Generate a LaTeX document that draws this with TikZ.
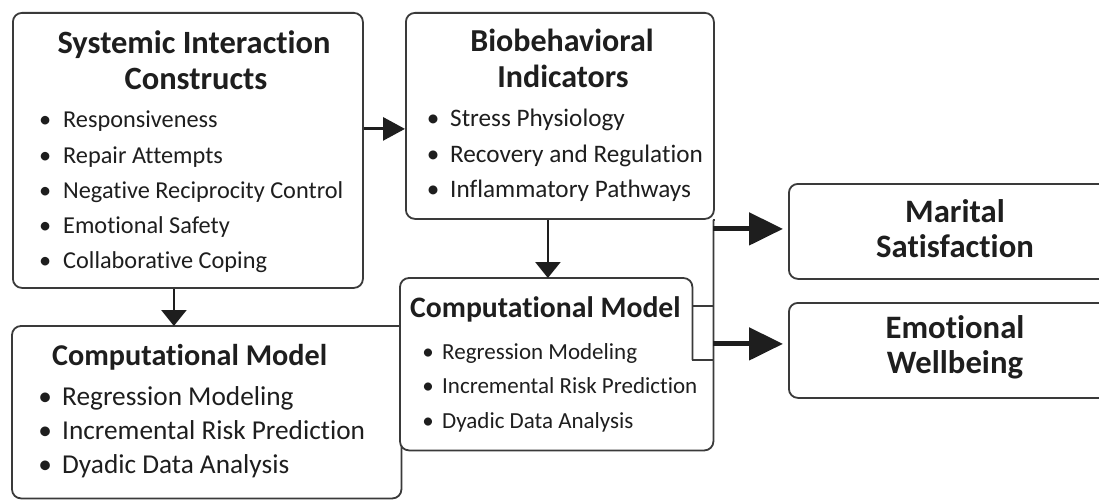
\documentclass[tikz,border=0pt]{standalone}
\usepackage{fontspec}
\setmainfont{Carlito}[Ligatures=NoCommon]
\usetikzlibrary{arrows.meta,calc}
\definecolor{ink}{HTML}{1E1E1E}
\definecolor{frame}{HTML}{3A3A3A}
% bullet hung in front of an item, centred in a box of the given width
\newcommand\bul[1]{\llap{\makebox[#1][c]{\textbullet}}}
\begin{document}
\begin{tikzpicture}[x=1pt,y=-1pt,
  panel/.style={draw=frame, line width=1.8pt, rounded corners=9pt, fill=white,
    inner sep=0pt, anchor=north west},
  shell/.style={inner sep=0pt, anchor=north west},
  edge/.style={draw=frame, line width=1.8pt},
  head/.style={text=ink, inner sep=0pt, anchor=base, font=\bfseries\fontsize{#1}{36}\selectfont},
  headL/.style={head=#1, anchor=base west},
  entry/.style={text=ink, inner sep=0pt, anchor=base west, font=\fontsize{#1}{30}\selectfont},
  flow/.style={draw=ink, line width=3pt, -{Triangle[length=22pt,width=23pt]}},
  drop/.style={draw=ink, line width=2.5pt, -{Triangle[length=16pt,width=25pt]}},
  outflow/.style={draw=ink, line width=5pt, -{Triangle[length=34pt,width=32pt]}, shorten >=5pt},
]
\useasboundingbox (0,0) rectangle (1099,500);
\clip (0,0) rectangle (1099,500);

% ---------- panels ----------
\node[panel, minimum width=350pt, minimum height=275pt] (A) at (12,12) {};
\node[panel, minimum width=308pt, minimum height=206pt] (B) at (405,12) {};
\node[shell, minimum width=389pt, minimum height=172pt] (C) at (12,326) {};
\node[shell, minimum width=313pt, minimum height=172pt] (D) at (400,278) {};
\node[panel, minimum width=334pt, minimum height=95pt] (E) at (788,183) {};
\node[panel, minimum width=334pt, minimum height=95pt] (F) at (788,302) {};

% lower-left model panel: its top right corner meets the middle panel square
\draw[edge, rounded corners=9pt] (C.north east) -- (C.north west) -- (C.south west)
  -- (C.south east) -- (C.north east);

% middle model panel, its right side joined to the shared output rail
\coordinate (Dnotch) at ($(D.north east)+(-21,0)$);
\draw[edge, fill=white, rounded corners=9pt] ($(Dnotch)+(0,82)$) -- (Dnotch) -- (D.north west)
  -- (D.south west) -- (D.south east) -- (D.south east |- B.south east);
\draw[edge, fill=white] ($(Dnotch)+(0,82)$) -- ($(D.north east)+(0,82)$);
\draw[edge] ($(Dnotch)+(0,28)$) -- ($(D.north east)+(0,28)$);
\draw[edge] (D.north east |- B.south east) -- (B.south east);

% ---------- texts ----------
\node[head=32.5] (At1) at (194,54) {Systemic Interaction};
\node[head=32.5] (At2) at (196,90) {Constructs};
\foreach \t [count=\i] in {Responsiveness,Repair Attempts,Negative Reciprocity Control,Emotional Safety,Collaborative Coping}
  \node[entry=24.3] (A-\i) at (63,{128+35*(\i-1)}) {\bul{36pt}\t};

\node[head=32] (Bt1) at (562,52) {Biobehavioral};
\node[head=32] (Bt2) at (563,88) {Indicators};
\foreach \t [count=\i] in {Stress Physiology,Recovery and Regulation,Inflammatory Pathways}
  \node[entry=25.2] (B-\i) at (450,{127+35*(\i-1)}) {\bul{34pt}\t};

\node[headL=30.2] (Ct) at (52,365) {Computational Model};
\foreach \t [count=\i] in {Regression Modeling,Incremental Risk Prediction,Dyadic Data Analysis}
  \node[entry=27.3] (C-\i) at (62,{405+34*(\i-1)}) {\bul{34pt}\t};

\node[headL=29.7] (Dt) at (410,317) {Computational Model};
\foreach \t [count=\i] in {Regression Modeling,Incremental Risk Prediction,Dyadic Data Analysis}
  \node[entry=23] (D-\i) at (442,{359+34.5*(\i-1)}) {\bul{28pt}\t};

\node[head=32.7] (Et1) at (955,222) {Marital};
\node[head=32.7] (Et2) at (955,257) {Satisfaction};
\node[head=32.7] (Ft1) at (955,338) {Emotional};
\node[head=32.7] (Ft2) at (955,373) {Wellbeing};

% ---------- connectors ----------
\draw[flow] ([yshift=21.5pt]A.east) -- ([yshift=21.5pt]A.east -| B.west);
\draw[drop] ([xshift=-14pt]A.south) -- ([xshift=-14pt]A.south |- C.north);
\draw[drop] ([xshift=-12pt]B.south) -- ([xshift=-12pt]B.south |- D.north);
\draw[outflow] ([yshift=2.5pt]E.west -| D.east) -- ([yshift=2.5pt]E.west);
\draw[outflow] ([yshift=6.5pt]F.west -| D.east) -- ([yshift=6.5pt]F.west);
\end{tikzpicture}
\end{document}
